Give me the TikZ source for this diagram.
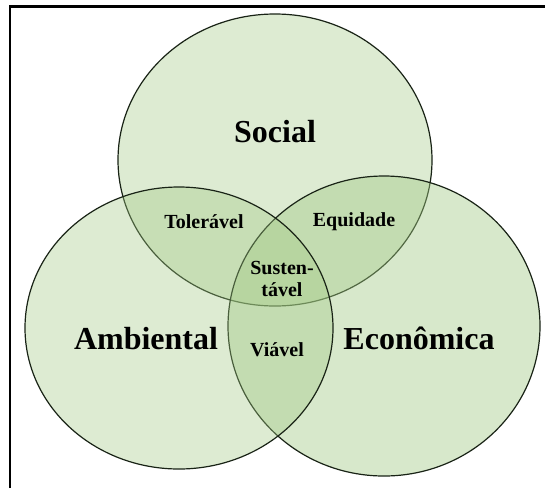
\documentclass[tikz,border=0pt]{standalone}
\usepackage{fontspec}
\setmainfont{Liberation Serif}
\usetikzlibrary{positioning}
\usetikzlibrary{shapes.geometric}
\definecolor{set colour}{RGB}{160,200,130}
\definecolor{edge colour}{RGB}{25,35,22}
\tikzset{
    % Fills for the three sets, see-through so the overlaps get darker
    set fill/.style={fill=set colour, fill opacity=0.36},
    strong fill/.style={fill=set colour, fill opacity=0.42},
    % The outer frame
    frame/.style={line width=2.2pt, black},
    % We almost always want centre aligned node text
    every node/.style={align=center},
}

\begin{document}
\begin{tikzpicture}[
    set/.style={ellipse, draw=edge colour, line width=1.2pt, inner sep=0pt},
    big label/.style={font=\fontsize{32}{35}\selectfont\bfseries},
    small label/.style={font=\fontsize{20}{22}\selectfont\bfseries},
    x=1pt, y=-1pt,
]
\useasboundingbox (0,0) rectangle (545,488);

\draw [frame] (10,488) -- (10,6.5) -- (545,6.5);

% the three sets, drawn in this order so inner edges look faint
\path
    (275,160) node [set, set fill, minimum width=314pt, minimum height=292pt] (social) {}
    (384,326) node [set, strong fill, minimum width=312pt, minimum height=300pt] (economica) {}
    (179,328) node [set, set fill, minimum width=308pt, minimum height=282pt] (ambiental) {};

\node [big label] (social label) at (275,132) {Social};
\node [big label] (ambiental label) at (146,339) {Ambiental};
\node [big label] (economica label) at (419,338) {Econômica};

\node [small label] (toleravel) at (204,222) {Tolerável};
\node [small label] (equidade) at (354,222) {Equidade};
\node [small label] (sustentavel) at (282,279) {Susten-\\tável};
\node [small label] (viavel) at (277,350) {Viável};

\end{tikzpicture}
\end{document}
